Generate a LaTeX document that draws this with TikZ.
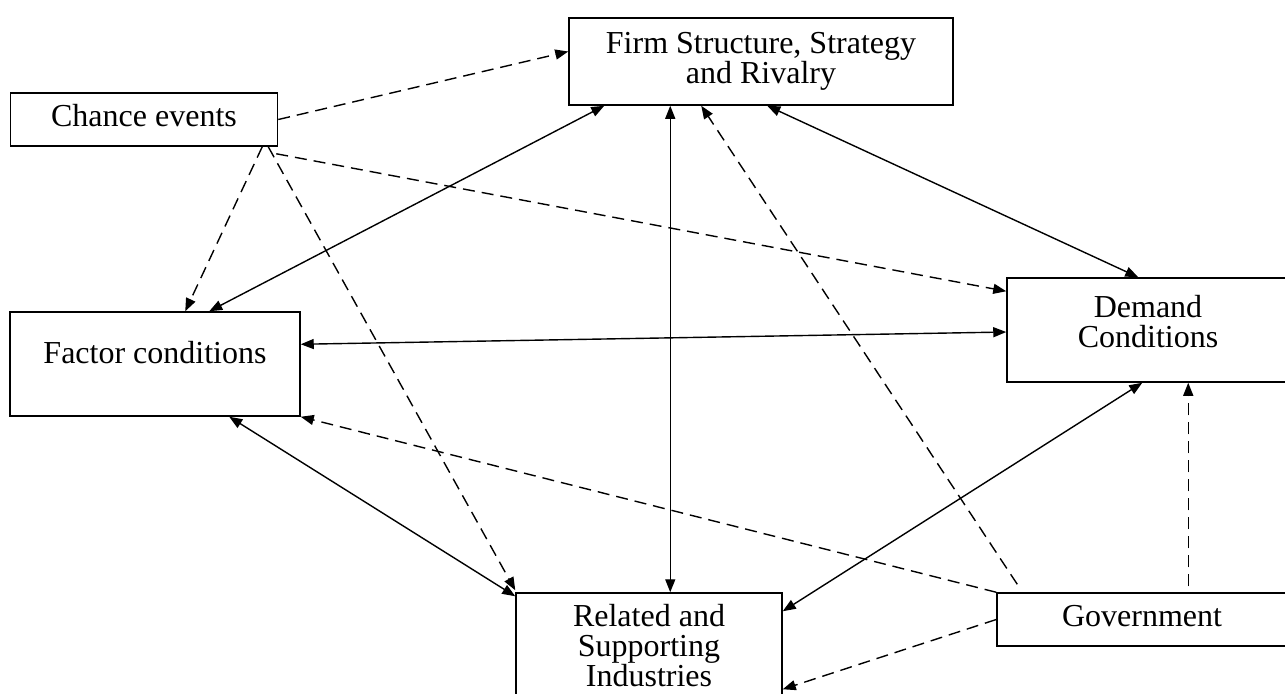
\documentclass[tikz,border=0pt]{standalone}
\usepackage{fontspec}
\setmainfont{Liberation Serif}
\usetikzlibrary{arrows.meta,calc}

\begin{document}
\begin{tikzpicture}[x=0.5pt,y=-0.5pt,font=\fontsize{16}{15}\selectfont]
% Define node and edge styles
\tikzstyle{box} = [rectangle, draw, line width=0.75pt, align=center, inner sep=0pt]
\tikzstyle{link} = [line width=0.7pt, <->, >={Triangle[length=6.5pt,width=5pt]}]
\tikzstyle{effect} = [line width=0.7pt, ->, dash pattern=on 6pt off 3.5pt, >={Triangle[length=6.5pt,width=5pt]}]

\clip (0,0) rectangle (1285,693);

% Draw nodes
\node[box, minimum width=192pt, minimum height=43.5pt] (firm) at (761,61.5) {Firm Structure, Strategy\\and Rivalry};
\node[box, minimum width=133.5pt, minimum height=26.5pt, text height=11.2pt, text depth=4pt] (chance) at (144,119.5) {Chance events};
\node[box, minimum width=145pt, minimum height=52pt, text height=11pt, text depth=12pt] (factor) at (155,364) {Factor conditions};
\node[box, minimum width=141pt, minimum height=52pt, text depth=9pt] (demand) at (1148,330) {Demand\\Conditions};
\node[box, minimum width=133pt, minimum height=53pt] (related) at (649,646) {Related and\\Supporting\\Industries};
\node[box, minimum width=145pt, minimum height=26.5pt, text height=11.2pt, text depth=4pt] (gov) at (1142,619.5) {Government};

% Draw edges between the four conditions
\draw[link] ($(factor.north west)+(200,0)$) -- ($(firm.south west)+(36,0)$);
\draw[link] ($(factor.north east)+(0,33)$) -- ($(demand.west)+(0,2)$);
\draw[link] ($(firm.south west)+(102,0)$) coordinate (fr) -- (fr |- related.north);
\draw[link] ($(firm.south west)+(199,0)$) -- ($(demand.north west)+(132,0)$);
\draw[link] ($(factor.south west)+(220,0)$) -- ($(related.north west)+(0,4)$);
\draw[link] ($(related.north east)+(0,19)$) -- ($(demand.south west)+(136,0)$);

% Draw chance effects
\draw[effect] (chance.east) -- ($(firm.west)+(0,-10)$);
\draw[effect] ($(chance.south east)+(-16,0)$) -- ($(factor.north west)+(176,0)$);
\draw[effect] ($(chance.south east)+(-10,0)$) -- ($(related.north west)+(0,-2)$);
\draw[effect] ($(chance.south east)+(-2,7)$) -- ($(demand.north west)+(0,14)$);

% Draw government effects
\draw[effect] ($(gov.north west)+(21,-8)$) -- ($(firm.south west)+(133,0)$);
\draw[effect] (gov.north west) -- (factor.south east);
\draw[effect] ($(gov.north west)+(192,-6)$) -- ($(demand.south west)+(182,0)$);
\draw[effect] (gov.west) -- ($(related.north east)+(0,97)$);
\end{tikzpicture}
\end{document}
